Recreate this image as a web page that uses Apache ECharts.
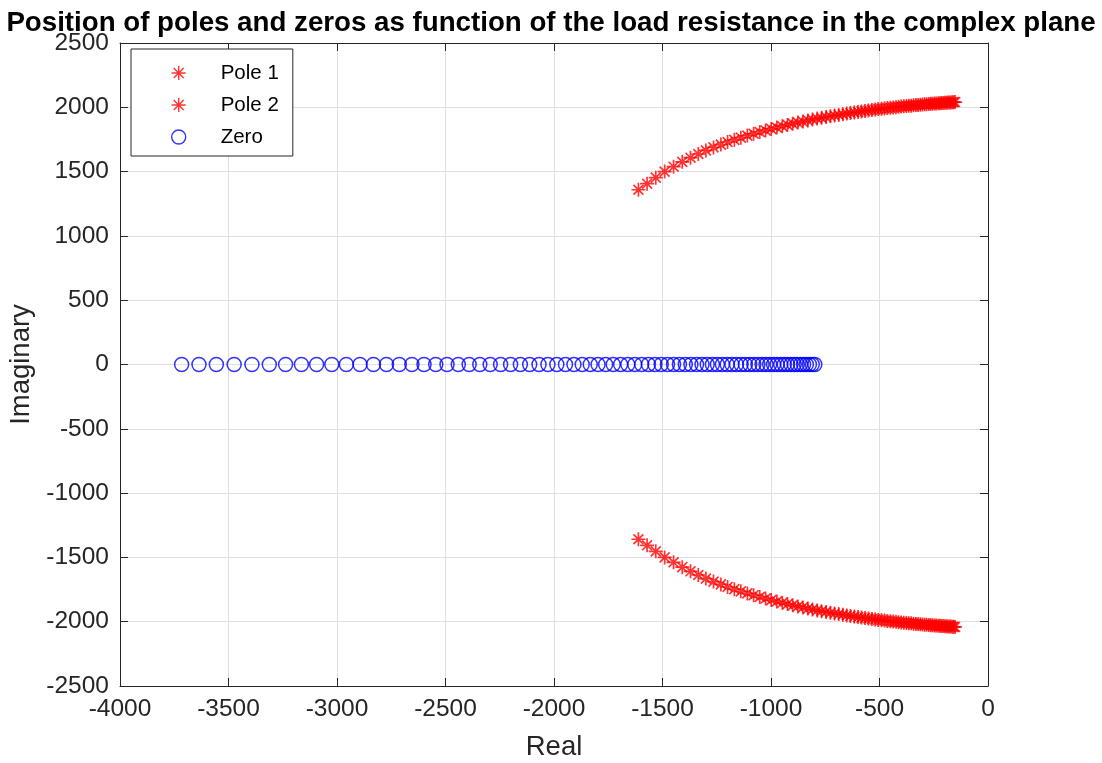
<!DOCTYPE html>
<html><head><meta charset="utf-8">
<script src="https://cdn.jsdelivr.net/npm/echarts@6/dist/echarts.min.js"></script>
<style>html,body{margin:0;padding:0;background:#fff}#c{width:1102px;height:763px}</style>
</head><body><div id="c"></div>
<script>
const titleText = 'Position of poles and zeros as function of the load resistance in the complex plane';
const xTicks = { min: -4000, max: 0, step: 500 };
const yTicks = { min: -2500, max: 2500, step: 500 };

const zeroRe = [-3716, -3636, -3556, -3474, -3392, -3312, -3237, -3164, -3094, -3024,
 -2957, -2894, -2832, -2772, -2713, -2655, -2599, -2545, -2493, -2441,
 -2391, -2342, -2294, -2246, -2200, -2155, -2112, -2069, -2028, -1987,
 -1947, -1908, -1870, -1833, -1797, -1762, -1727, -1693, -1660, -1628,
 -1596, -1565, -1535, -1506, -1477, -1449, -1422, -1395, -1369, -1343,
 -1318, -1294, -1270, -1247, -1224, -1202, -1180, -1159, -1138, -1118,
 -1098, -1079, -1060, -1041, -1023, -1006, -988, -972, -955, -939,
 -924, -908, -893, -879, -864, -850, -837, -823, -810, -798];
const zeroIm = [0,0,0,0,0,0,0,0,0,0, 0,0,0,0,0,0,0,0,0,0, 0,0,0,0,0,0,0,0,0,0, 0,0,0,0,0,0,0,0,0,0,
 0,0,0,0,0,0,0,0,0,0, 0,0,0,0,0,0,0,0,0,0, 0,0,0,0,0,0,0,0,0,0, 0,0,0,0,0,0,0,0,0,0];

const poleRe = [-1611, -1571, -1531, -1490, -1449, -1409, -1371, -1335, -1300, -1265,
 -1231, -1200, -1169, -1139, -1109, -1080, -1052, -1025, -999, -973,
 -948, -924, -900, -876, -853, -830, -809, -787, -767, -746,
 -726, -707, -688, -669, -651, -634, -616, -599, -583, -567,
 -551, -535, -520, -506, -491, -477, -464, -450, -437, -424,
 -412, -400, -388, -376, -365, -354, -343, -332, -322, -312,
 -302, -292, -283, -273, -264, -256, -247, -239, -230, -222,
 -215, -207, -199, -192, -185, -178, -171, -164, -158, -152];
const pole1Im = [1359, 1406, 1453, 1500, 1538, 1576, 1608, 1637, 1665, 1688,
 1710, 1730, 1747, 1764, 1780, 1794, 1808, 1820, 1832, 1843,
 1853, 1863, 1873, 1881, 1889, 1898, 1905, 1912, 1918, 1924,
 1930, 1936, 1941, 1946, 1951, 1955, 1960, 1964, 1968, 1972,
 1975, 1979, 1982, 1986, 1989, 1991, 1994, 1997, 1999, 2001,
 2004, 2006, 2008, 2010, 2012, 2013, 2015, 2017, 2018, 2020,
 2022, 2023, 2024, 2026, 2027, 2028, 2029, 2030, 2031, 2032,
 2033, 2034, 2035, 2036, 2037, 2038, 2038, 2039, 2040, 2041];
const pole2Im = [-1359, -1406, -1453, -1500, -1538, -1576, -1608, -1637, -1665, -1688,
 -1710, -1730, -1747, -1764, -1780, -1794, -1808, -1820, -1832, -1843,
 -1853, -1863, -1873, -1881, -1889, -1898, -1905, -1912, -1918, -1924,
 -1930, -1936, -1941, -1946, -1951, -1955, -1960, -1964, -1968, -1972,
 -1975, -1979, -1982, -1986, -1989, -1991, -1994, -1997, -1999, -2001,
 -2004, -2006, -2008, -2010, -2012, -2013, -2015, -2017, -2018, -2020,
 -2022, -2023, -2024, -2026, -2027, -2028, -2029, -2030, -2031, -2032,
 -2033, -2034, -2035, -2036, -2037, -2038, -2038, -2039, -2040, -2041];

const seriesNames = ['Pole 1', 'Pole 2', 'Zero'];

const FONT = '"Liberation Sans", Arial, Helvetica, sans-serif';
const AX = '#262626';
const GRIDC = '#dfdfdf';
const STAR = 'path://M0,5L10,5M5,0L5,10M1.46,1.46L8.54,8.54M8.54,1.46L1.46,8.54';
const zip = (a, b) => a.map((v, i) => [v, b[i]]);

function axisCommon(range, pos, main) {
  return {
    type: 'value', min: range.min, max: range.max, interval: range.step, position: pos,
    axisLine: { show: true, onZero: false, lineStyle: { color: AX, width: 1 } },
    axisTick: { show: true, inside: true, length: 8, lineStyle: { color: AX, width: 1 } },
    axisLabel: { show: main, fontSize: 24.5, color: AX, fontFamily: FONT, margin: 11,
      formatter: v => String(v) },
    splitLine: { show: main, lineStyle: { color: GRIDC, width: 1 } }
  };
}

const chart = echarts.init(document.getElementById('c'), null, { renderer: 'canvas' });
const xMain = Object.assign(axisCommon(xTicks, 'bottom', true), {
  name: 'Real', nameLocation: 'middle', nameGap: 47,
  nameTextStyle: { fontSize: 27.5, color: AX, fontFamily: FONT }
});
const yMain = Object.assign(axisCommon(yTicks, 'left', true), {
  name: 'Imaginary', nameLocation: 'middle', nameGap: 76,
  nameTextStyle: { fontSize: 27.5, color: AX, fontFamily: FONT }
});

chart.setOption({
  animation: false,
  backgroundColor: '#fff',
  title: {
    text: titleText, left: 'center', top: 4,
    textStyle: { fontFamily: FONT, fontWeight: 'bold', fontSize: 27.7, color: '#000' }
  },
  grid: { left: 120, right: 114, top: 43, bottom: 77, containLabel: false, outerBoundsMode: 'none' },
  xAxis: [xMain, axisCommon(xTicks, 'top', false)],
  yAxis: [yMain, axisCommon(yTicks, 'right', false)],
  legend: {
    orient: 'vertical', left: 131, top: 49,
    padding: [13, 14, 8, 40], itemGap: 10, itemWidth: 14, itemHeight: 14,
    backgroundColor: '#fff', borderColor: AX, borderWidth: 1, borderRadius: 0,
    selectedMode: false,
    textStyle: { fontSize: 20.5, color: '#000', fontFamily: FONT, lineHeight: 22, padding: [0, 0, 0, 30] },
    data: [
      { name: seriesNames[0], icon: STAR, itemStyle: { color: '#ff0000', borderColor: '#ff0000', borderWidth: 1.4 } },
      { name: seriesNames[1], icon: STAR, itemStyle: { color: '#ff0000', borderColor: '#ff0000', borderWidth: 1.4 } },
      { name: seriesNames[2], icon: 'circle', itemStyle: { color: 'rgba(0,0,0,0)', borderColor: '#0000ff', borderWidth: 1.4 } }
    ]
  },
  series: [
    { name: seriesNames[0], type: 'scatter', data: zip(poleRe, pole1Im), symbol: STAR, symbolSize: 14,
      itemStyle: { color: '#ff0000', borderColor: '#ff0000', borderWidth: 1.7 }, emphasis: { disabled: true } },
    { name: seriesNames[1], type: 'scatter', data: zip(poleRe, pole2Im), symbol: STAR, symbolSize: 14,
      itemStyle: { color: '#ff0000', borderColor: '#ff0000', borderWidth: 1.7 }, emphasis: { disabled: true } },
    { name: seriesNames[2], type: 'scatter', data: zip(zeroRe, zeroIm), symbol: 'circle', symbolSize: 14,
      itemStyle: { color: 'rgba(0,0,0,0)', borderColor: '#0000ff', borderWidth: 1.5 }, emphasis: { disabled: true } }
  ]
});
</script></body></html>
